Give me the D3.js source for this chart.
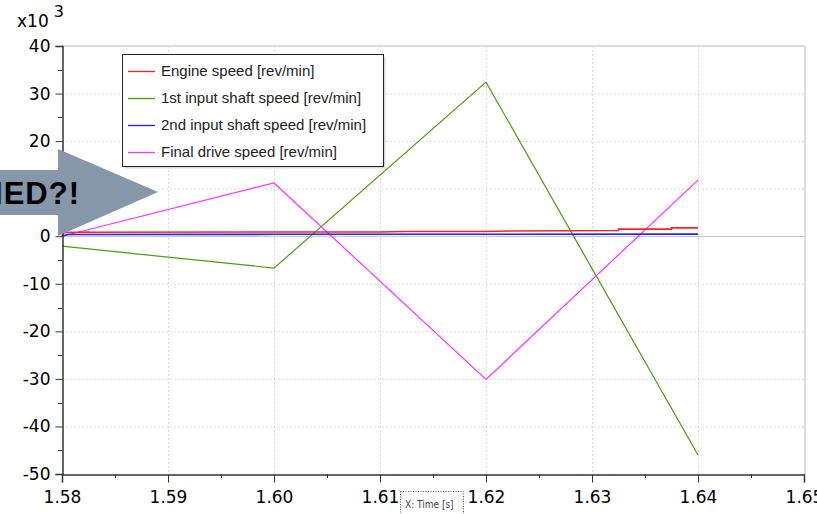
<!DOCTYPE html>
<html><head><meta charset="utf-8">
<script src="https://cdn.jsdelivr.net/npm/d3@7"></script>
<style>html,body{margin:0;padding:0;background:#fff;}svg{display:block;}</style>
</head><body>
<svg id="c" width="817" height="514"></svg>
<script>
// ---- data (values in x10^3 rev/min) ----
const seriesNames = ["Engine speed [rev/min]","1st input shaft speed [rev/min]","2nd input shaft speed [rev/min]","Final drive speed [rev/min]"];
const seriesColors = ["#ff2020","#4f9a10","#2020ff","#ff30ff"];
const engineTime  = [1.58, 1.5802, 1.5825, 1.5825, 1.6, 1.61, 1.6125, 1.62, 1.6225, 1.6325, 1.6325, 1.6375, 1.6375, 1.64];
const engineSpeed = [0.0, 0.8, 0.9, 0.85, 0.9, 0.9, 1.0, 1.0, 1.1, 1.2, 1.5, 1.5, 1.75, 1.75];
const shaft1Time  = [1.58, 1.60, 1.62, 1.64];
const shaft1Speed = [-2.1, -6.7, 32.4, -46.0];
const shaft2Time  = [1.58, 1.5805, 1.60, 1.62, 1.64];
const shaft2Speed = [0.0, 0.35, 0.4, 0.4, 0.45];
const finalTime   = [1.58, 1.60, 1.62, 1.64];
const finalSpeed  = [0.0, 11.2, -30.1, 11.8];
const xTicks = [1.58,1.59,1.60,1.61,1.62,1.63,1.64,1.65];
const yTicks = [40,30,20,10,0,-10,-20,-30,-40,-50];

const svg = d3.select("#c");
const L=62, R=804, T=46, B=474;
const x = d3.scaleLinear().domain([1.58,1.65]).range([L,R]);
const y = d3.scaleLinear().domain([-50,40]).range([B,T]);

// grid
const g = svg.append("g");
g.selectAll(".gy").data(yTicks.filter(d=>d!==0 && d!==-50 && d!==40)).join("line")
 .attr("x1",L).attr("x2",R).attr("y1",d=>y(d)+0.5).attr("y2",d=>y(d)+0.5)
 .attr("stroke","#cfcfcf").attr("stroke-dasharray","1.5,2.5");
g.selectAll(".gx").data(xTicks.filter(d=>d>1.58 && d<1.65)).join("line")
 .attr("x1",d=>Math.round(x(d))+0.5).attr("x2",d=>Math.round(x(d))+0.5).attr("y1",T).attr("y2",B)
 .attr("stroke","#cfcfcf").attr("stroke-dasharray","1.5,2.5");
// zero line
g.append("line").attr("x1",L).attr("x2",R).attr("y1",Math.round(y(0))+0.5).attr("y2",Math.round(y(0))+0.5).attr("stroke","#c4c4c4");
// frame top/right
g.append("line").attr("x1",L).attr("x2",R+1).attr("y1",T).attr("y2",T).attr("stroke","#dcdcdc").attr("stroke-width",2);
g.append("line").attr("x1",R+1).attr("x2",R+1).attr("y1",T).attr("y2",B).attr("stroke","#dcdcdc").attr("stroke-width",2);

// series
const line = d3.line().x(d=>x(d[0])).y(d=>y(d[1]));
const data = [
  d3.zip(engineTime, engineSpeed),
  d3.zip(shaft1Time, shaft1Speed),
  d3.zip(shaft2Time, shaft2Speed),
  d3.zip(finalTime, finalSpeed)
];
const drawOrder=[1,3,0,2];
drawOrder.forEach(i=>{
  svg.append("path").datum(data[i]).attr("d",line).attr("fill","none")
   .attr("stroke",seriesColors[i]).attr("stroke-width",i===0||i===2?1.6:1.2);
});

// axes
const yAxis = d3.axisLeft(y).tickValues(yTicks).tickSize(7).tickPadding(5).tickFormat(d=>String(d));
const ya = svg.append("g").attr("transform",`translate(${L+0.5},0)`).call(yAxis);
const yMinor = d3.range(-45,40,10);
svg.append("g").selectAll("line").data(yMinor).join("line")
 .attr("x1",L-4).attr("x2",L).attr("y1",d=>Math.round(y(d))+0.5).attr("y2",d=>Math.round(y(d))+0.5).attr("stroke","#333");
const xAxis = d3.axisBottom(x).tickValues(xTicks).tickSize(8).tickPadding(5).tickFormat(d=>d.toFixed(2));
const xa = svg.append("g").attr("transform",`translate(0,${B+0.5})`).call(xAxis);
const xMinor = d3.range(0,7).map(i=>1.585+i*0.01);
svg.append("g").selectAll("line").data(xMinor).join("line")
 .attr("x1",d=>Math.round(x(d))+0.5).attr("x2",d=>Math.round(x(d))+0.5).attr("y1",B).attr("y2",B+4).attr("stroke","#333");
[ya,xa].forEach(a=>{
  a.selectAll("path").attr("stroke","#333").attr("stroke-width",1.5);
  a.selectAll("line").attr("stroke","#333");
  a.selectAll("text").attr("fill","#000").style("font-family","'DejaVu Sans',sans-serif").style("font-size","17px");
});
xa.selectAll("text").attr("dy","0.9em");

// exponent label
const ex = svg.append("text").attr("x",17).attr("y",27).style("font-family","'DejaVu Sans',sans-serif").style("font-size","17px").attr("fill","#000");
ex.append("tspan").text("x10");
ex.append("tspan").attr("dx",5).attr("dy",-10).style("font-size","16px").text("3");

// x axis title box
svg.append("rect").attr("x",400.5).attr("y",491.5).attr("width",63).attr("height",30).attr("fill","#fff")
 .attr("stroke","#555").attr("stroke-dasharray","1,1.5");
svg.append("text").attr("x",405).attr("y",508).style("font-family","'DejaVu Sans Condensed','DejaVu Sans',sans-serif").style("font-size","10px").attr("fill","#445").text("X: Time [s]");

// legend
const lg = svg.append("g");
lg.append("rect").attr("x",124.5).attr("y",56.5).attr("width",261).attr("height",112).attr("fill","#d8d8d8");
lg.append("rect").attr("x",122.5).attr("y",54.5).attr("width",261).attr("height",112).attr("fill","#fff").attr("stroke","#222");
seriesNames.forEach((n,i)=>{
  const yy = 71 + i*27;
  lg.append("line").attr("x1",128).attr("x2",155).attr("y1",yy+0.5).attr("y2",yy+0.5).attr("stroke",seriesColors[i]).attr("stroke-width",1.3);
  lg.append("text").attr("x",161).attr("y",yy+5).style("font-family","'Liberation Sans',Arial,sans-serif").style("font-size","15px").attr("fill","#222").text(n);
});

// overlay arrow
svg.append("path").attr("d","M0,170 L58,170 L58,149 L158,192 L58,236 L58,215 L0,215 Z").attr("fill","#8597a8");
svg.append("text").attr("x",80).attr("y",204).attr("text-anchor","end")
 .style("font-family","'Liberation Sans',Arial,sans-serif").style("font-weight","bold").style("font-size","31px").style("letter-spacing","1px").attr("fill","#000").text("WHAT CRASHED?!");
</script>
</body></html>
